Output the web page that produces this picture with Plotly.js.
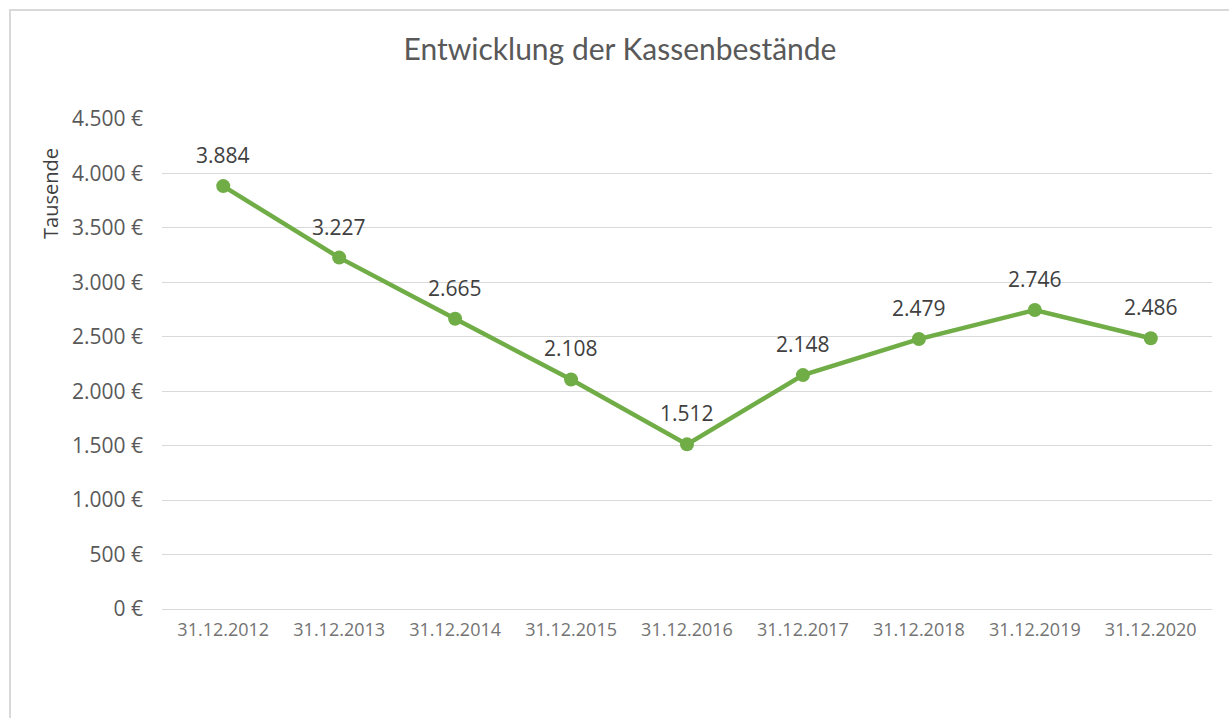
<!DOCTYPE html>
<html>
<head>
<meta charset="utf-8">
<script src="https://cdn.plot.ly/plotly-3.0.1.min.js"></script>
<style>
  html, body { margin: 0; padding: 0; background: #fff; }
  #chart { width: 1229px; height: 718px; position: relative; }
  #frame { position: absolute; left: 9px; top: 9px; width: 1240px; height: 740px;
           border: 2px solid #d9d9d9; pointer-events: none; box-sizing: border-box; }
</style>
</head>
<body>
<div id="chart"></div>
<div id="frame"></div>
<script>
const categories = ["31.12.2012", "31.12.2013", "31.12.2014", "31.12.2015", "31.12.2016",
                    "31.12.2017", "31.12.2018", "31.12.2019", "31.12.2020"];
const kassenbestand = [3884, 3227, 2665, 2108, 1512, 2148, 2479, 2746, 2486];
const dataLabels = ["3.884", "3.227", "2.665", "2.108", "1.512", "2.148", "2.479", "2.746", "2.486"];
const chartTitle = "Entwicklung der Kassenbestände";
const unitLabel = "Tausende";

const trace = {
  x: categories,
  y: kassenbestand,
  type: "scatter",
  mode: "lines+markers",
  line: { color: "#70ad47", width: 4.5 },
  marker: { color: "#70ad47", size: 14 },
  cliponaxis: false,
  hoverinfo: "skip"
};

const labelAnnotations = categories.map((c, i) => ({
  x: c, y: kassenbestand[i], xref: "x", yref: "y",
  text: dataLabels[i],
  showarrow: false,
  xanchor: "center", yanchor: "middle",
  yshift: 31,
  font: { family: "Open Sans, Noto Sans, sans-serif", size: 21, color: "#404040" }
}));

const layout = {
  width: 1229,
  height: 718,
  separators: ",.",
  paper_bgcolor: "#ffffff",
  plot_bgcolor: "#ffffff",
  margin: { l: 162, r: 17, t: 119, b: 109 },
  showlegend: false,
  title: {
    text: chartTitle,
    x: 620 / 1229, xref: "container", xanchor: "center",
    y: 1 - 49 / 718, yref: "container", yanchor: "middle",
    font: { family: "Lato, Open Sans, sans-serif", size: 30, color: "#595959" }
  },
  xaxis: {
    type: "category",
    showgrid: false,
    showline: false,
    zeroline: false,
    ticks: "",
    tickfont: { family: "Open Sans, Noto Sans, sans-serif", size: 18, color: "#737373" },
    ticklabelstandoff: 8
  },
  yaxis: {
    range: [0, 4500],
    dtick: 500,
    tick0: 0,
    tickformat: ",.0f",
    ticksuffix: " €",
    showgrid: true,
    gridcolor: "#d9d9d9",
    gridwidth: 1,
    zeroline: true,
    zerolinecolor: "#d9d9d9",
    zerolinewidth: 1,
    showline: false,
    ticks: "",
    tickfont: { family: "Open Sans, Noto Sans, sans-serif", size: 21, color: "#595959" },
    ticklabelstandoff: 18
  },
  annotations: labelAnnotations.concat([{
    text: unitLabel,
    xref: "paper", yref: "paper",
    x: (50 - 162) / 1050, y: (609 - 193) / 490,
    xanchor: "center", yanchor: "middle",
    textangle: -90,
    showarrow: false,
    font: { family: "Open Sans, Noto Sans, sans-serif", size: 20, color: "#404040" }
  }])
};

Plotly.newPlot("chart", [trace], layout, { displayModeBar: false, staticPlot: true });
</script>
</body>
</html>
